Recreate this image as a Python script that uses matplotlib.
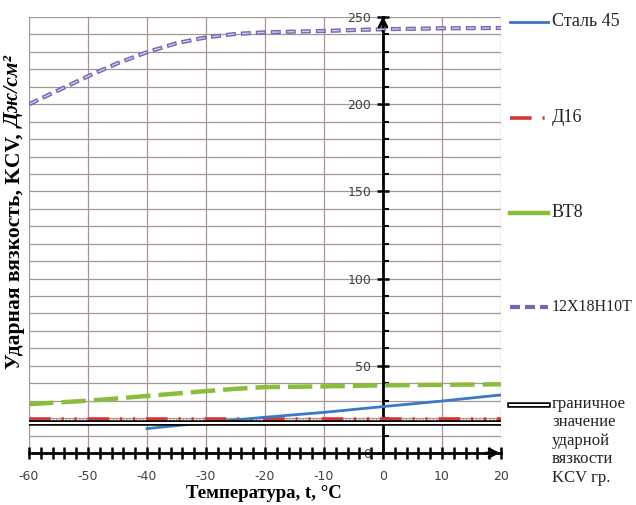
import matplotlib.pyplot as plt
from matplotlib.lines import Line2D

plt.rcParams["axes.unicode_minus"] = False

# data
temps = [-60, -55, -50, -45, -40, -35, -30, -25, -20, -10, 0, 10, 20]
x12h18 = [200, 208, 216, 223.5, 229.8, 235, 238.3, 240.3, 241.2, 242, 243, 243.5, 243.7]
vt8 = [28, 29, 30, 31.3, 32.7, 34.1, 35.5, 36.8, 37.8, 38.2, 38.8, 39.1, 39.4]
d16 = [19.5, 19.5, 19.5, 19.5, 19.5, 19.5, 19.5, 19.5, 19.5, 19.5, 19.5, 19.5, 19.5]
steel_t = [-40, -30, -20, -10, 0, 10, 20]
steel45 = [14, 17.4, 20.5, 23.3, 26.6, 29.8, 33.3]
kcv_limit = 17

W, H = 636, 505
fig = plt.figure(figsize=(W / 100, H / 100), dpi=100)
ax = fig.add_axes([29 / W, 52 / H, 472 / W, 436 / H])
ax.set_xlim(-60, 20)
ax.set_ylim(0, 250)

grid_c = "#a89494"
for gx in range(-60, 21, 10):
    ax.axvline(gx, color=grid_c, lw=0.9, zorder=0)
for gy in range(10, 251, 10):
    ax.axhline(gy, color=grid_c, lw=0.9, zorder=0)

# series
purple_out = dict(color="#7664b4", lw=3.0, ls=(0, (2.4, 1.2)))
ax.plot(temps, x12h18, zorder=3, **purple_out)
ax.plot(temps, x12h18, color="#d2caf0", lw=1.0, ls=(9.9, (5.4, 5.4)), zorder=4)
ax.plot(temps, vt8, color="#8cbc3c", lw=3.2, ls=(0, (5.5, 1.8)), zorder=3)
ax.plot(temps, d16, color="#d23a3a", lw=2.6, ls=(0, (6, 3, 0.6, 3, 0.6, 3)), zorder=3)
ax.plot(temps, d16, color="#d23a3a", lw=0.6, ls=(0, (1, 3)), zorder=3)
ax.plot(steel_t, steel45, color="#3b78c6", lw=2, zorder=3)
ax.axhline(kcv_limit, color="black", lw=4, zorder=3)
ax.axhline(kcv_limit, color="white", lw=1.5, zorder=3)

# axes through origin
for s in ("top", "right"):
    ax.spines[s].set_visible(False)
ax.spines["left"].set_position(("data", 0))
ax.spines["left"].set_linewidth(2)
ax.spines["bottom"].set_linewidth(2)
ax.set_xticks(range(-60, 21, 10))
ax.set_xticks(range(-60, 21, 2), minor=True)
ax.set_yticks(range(0, 251, 50))
ax.set_yticks(range(0, 251, 10), minor=True)
ax.tick_params(axis="x", which="major", direction="inout", length=9, width=1.8,
               pad=8, labelsize=9, labelcolor="#404040")
ax.tick_params(axis="x", which="minor", direction="inout", length=9, width=1.8)
ax.tick_params(axis="y", which="major", direction="inout", length=9, width=1.8,
               pad=4, labelsize=9, labelcolor="#404040")
ax.tick_params(axis="y", which="minor", direction="in", length=4, width=1.5)
ax.annotate("", xy=(0, 252), xytext=(0, 240), annotation_clip=False,
            arrowprops=dict(arrowstyle="->", lw=2, color="black", mutation_scale=14))
ax.annotate("", xy=(20.3, 0), xytext=(17, 0), annotation_clip=False,
            arrowprops=dict(arrowstyle="->", lw=2, color="black", mutation_scale=14))

serif = "Liberation Serif"
fig.text(264 / W, 1 - 494 / H, "Температура, t, °C", family=serif, weight="bold",
         size=13.5, ha="center", va="center")
# y label: bold part plus bold italic units, joined at one point
split_y = 1 - 128 / H
fig.text(15 / W, split_y, "Ударная вязкость, KCV, ", family=serif, weight="bold",
         size=15.5, rotation=90, rotation_mode="anchor", ha="right", va="center")
fig.text(15 / W, split_y, "Дж/см²", family=serif, weight="bold", style="italic",
         size=15.5, rotation=90, rotation_mode="anchor", ha="left", va="center")

# legend drawn by hand to keep the wide spacing
def handle(y, **kw):
    fig.add_artist(Line2D([510 / W, 548 / W], [1 - y / H, 1 - y / H], **kw))

handle(22, color="#3b78c6", lw=2)
handle(118, color="#d23a3a", lw=2.6, ls=(0, (6, 3, 0.6, 3)))
handle(213, color="#8cbc3c", lw=3.2)
handle(307, **purple_out)
handle(405, color="black", lw=4)
handle(405, color="white", lw=1.5)
labels = [(22, "Сталь 45", 13), (118, "Д16", 13), (213, "ВТ8", 13), (307, "12Х18Н10Т", 11.5)]
for y, txt, fs in labels:
    fig.text(552 / W, 1 - y / H, txt, family=serif, size=fs, va="center", color="#222222")
fig.text(552 / W, 1 - 396 / H, "граничное\nзначение\nударной\nвязкости\nKCV гр.",
         family=serif, size=12, va="top", color="#222222", linespacing=1.2)

fig.savefig("out.png", dpi=100)
